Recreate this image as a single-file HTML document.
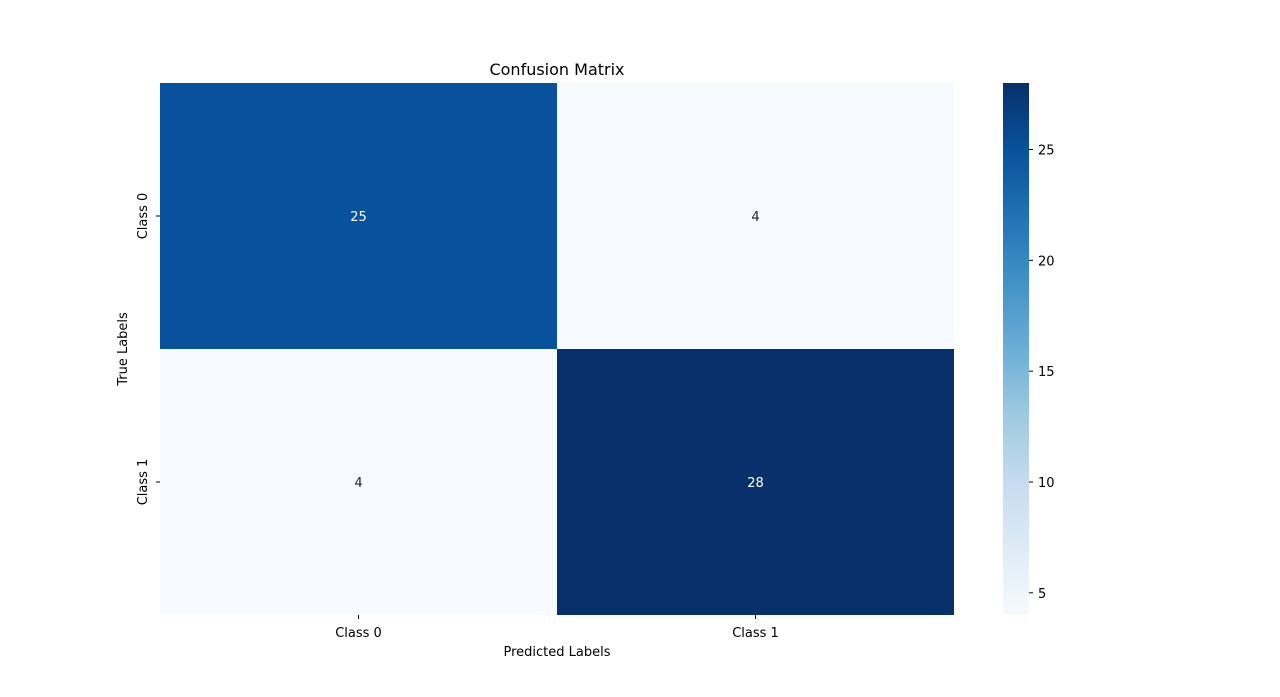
<!DOCTYPE html>
<html><head><meta charset="utf-8"><style>
body{margin:0;background:#fff;}
svg text{font-family:"DejaVu Sans","Liberation Sans",sans-serif;}
</style></head><body>
<svg id="chart" width="1280" height="692" xmlns="http://www.w3.org/2000/svg">
<defs>
<linearGradient id="blues" x1="0" y1="1" x2="0" y2="0">
<stop offset="0" stop-color="#f7fbff"/><stop offset="0.125" stop-color="#deebf7"/><stop offset="0.25" stop-color="#c6dbef"/><stop offset="0.375" stop-color="#9ecae1"/><stop offset="0.5" stop-color="#6baed6"/><stop offset="0.625" stop-color="#4292c6"/><stop offset="0.75" stop-color="#2171b5"/><stop offset="0.875" stop-color="#08519c"/><stop offset="1" stop-color="#08306b"/>
</linearGradient>
</defs>
<text x="557" y="75" font-size="16" text-anchor="middle">Confusion Matrix</text>
<g id="cells"></g>
<g id="axes"></g>
<rect x="1003" y="83" width="26" height="532" fill="url(#blues)"/>
<g id="cbticks"></g>
<text x="557" y="656" font-size="13" text-anchor="middle">Predicted Labels</text>
<text transform="translate(127,349) rotate(-90)" font-size="13" text-anchor="middle">True Labels</text>
</svg>
<script>
const trueLabels = ["Class 0","Class 1"];
const predLabels = ["Class 0","Class 1"];
const matrix = [[25,4],[4,28]];
const cbTicks = [5,10,15,20,25];

const NS="http://www.w3.org/2000/svg";
const X0=160,X1=954,Y0=83,Y1=615;
const flat=matrix.flat();
const vmin=Math.min(...flat), vmax=Math.max(...flat);
const stops=["#f7fbff","#deebf7","#c6dbef","#9ecae1","#6baed6","#4292c6","#2171b5","#08519c","#08306b"];
function hex(c){return [1,3,5].map(i=>parseInt(c.substr(i,2),16));}
function cmap(v){
  let t=(v-vmin)/(vmax-vmin); t=Math.max(0,Math.min(1,t));
  const p=t*(stops.length-1), i=Math.min(Math.floor(p),stops.length-2), f=p-i;
  const a=hex(stops[i]),b=hex(stops[i+1]);
  return "rgb("+a.map((x,k)=>Math.round(x+(b[k]-x)*f)).join(",")+")";
}
const cw=(X1-X0)/predLabels.length, ch=(Y1-Y0)/trueLabels.length;
const xs=j=>X0+j*cw, ys=i=>Y0+i*ch;
const cells=document.getElementById("cells");
matrix.forEach((row,i)=>row.forEach((v,j)=>{
  const r=document.createElementNS(NS,"rect");
  r.setAttribute("x",xs(j));r.setAttribute("y",ys(i));r.setAttribute("width",cw);r.setAttribute("height",ch);
  r.setAttribute("fill",cmap(v));
  
  
  cells.appendChild(r);
  const t=document.createElementNS(NS,"text");
  t.setAttribute("x",xs(j)+cw/2);t.setAttribute("y",ys(i)+ch/2+5);
  t.setAttribute("font-size","13");t.setAttribute("text-anchor","middle");
  t.setAttribute("fill",(v-vmin)/(vmax-vmin)>0.5?"#fff":"#262626");
  t.textContent=v;
  
  
  cells.appendChild(t);
}));
const axes=document.getElementById("axes");
predLabels.forEach((l,j)=>{
  const x=xs(j)+cw/2;
  const ln=document.createElementNS(NS,"line");
  ln.setAttribute("x1",x);ln.setAttribute("x2",x);ln.setAttribute("y1",Y1);ln.setAttribute("y2",Y1+4);ln.setAttribute("stroke","#000");
  
  
  axes.appendChild(ln);
  const t=document.createElementNS(NS,"text");
  t.setAttribute("x",x);t.setAttribute("y",Y1+22);t.setAttribute("font-size","13");t.setAttribute("text-anchor","middle");
  t.textContent=l;
  
  
  axes.appendChild(t);
});
trueLabels.forEach((l,i)=>{
  const y=ys(i)+ch/2;
  const ln=document.createElementNS(NS,"line");
  ln.setAttribute("x1",X0-4);ln.setAttribute("x2",X0);ln.setAttribute("y1",y);ln.setAttribute("y2",y);ln.setAttribute("stroke","#000");
  
  
  axes.appendChild(ln);
  const t=document.createElementNS(NS,"text");
  t.setAttribute("transform","translate(147,"+y+") rotate(-90)");t.setAttribute("font-size","13");t.setAttribute("text-anchor","middle");
  t.textContent=l;
  
  
  axes.appendChild(t);
});
const cb=document.getElementById("cbticks");
cbTicks.forEach(v=>{
  const y=Y1-(v-vmin)/(vmax-vmin)*(Y1-Y0);
  const ln=document.createElementNS(NS,"line");
  ln.setAttribute("x1",1029);ln.setAttribute("x2",1033);ln.setAttribute("y1",y);ln.setAttribute("y2",y);ln.setAttribute("stroke","#000");
  
  
  cb.appendChild(ln);
  const t=document.createElementNS(NS,"text");
  t.setAttribute("x",1038);t.setAttribute("y",y+5);t.setAttribute("font-size","13");
  t.textContent=v;
  
  
  cb.appendChild(t);
});
</script>
</body></html>
